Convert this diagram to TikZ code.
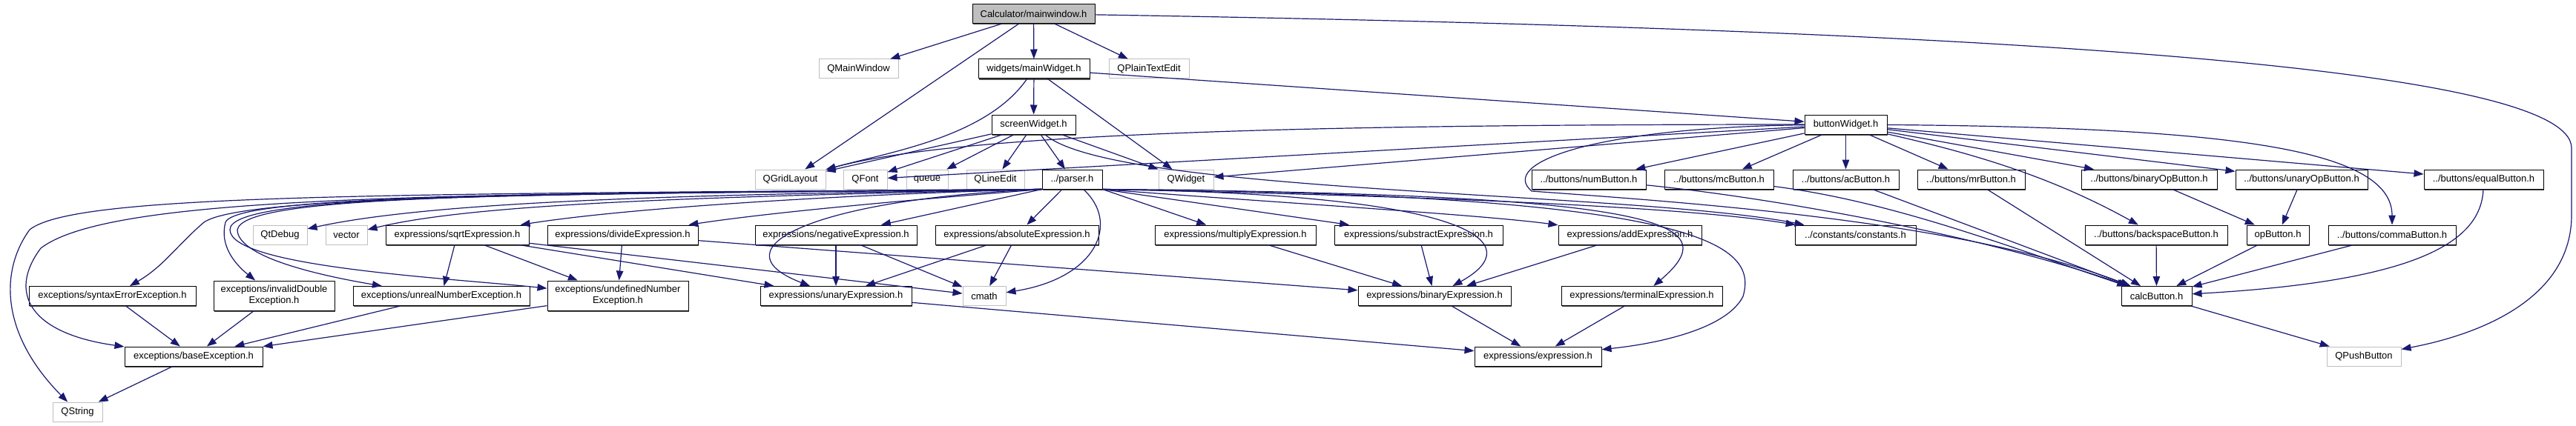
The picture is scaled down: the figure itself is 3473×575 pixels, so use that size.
\documentclass[tikz,border=0pt]{standalone}
\usepackage{fontspec}
\setmainfont{Liberation Sans}
\usetikzlibrary{arrows.meta,shadows}
\definecolor{edgeblue}{HTML}{191970}
\definecolor{sysgray}{HTML}{BFBFBF}

\begin{document}
\begin{tikzpicture}[
    x=1pt, y=-1pt,
    fileBox/.style={draw=black, fill=white, line width=1pt, font=\fontsize{13}{15}\selectfont, align=center, minimum height=26pt, inner sep=2pt, drop shadow={shadow xshift=0.8pt, shadow yshift=-1.8pt, fill=black!70, opacity=1}},
    sysBox/.style={draw=sysgray, fill=white, line width=1pt, font=\fontsize{13}{15}\selectfont, align=center, minimum height=26pt, inner sep=2pt},
    rootBox/.style={fileBox, fill=sysgray},
    incArrow/.style={-{Triangle[length=13pt,width=9.5pt]}, line width=1.2pt, draw=edgeblue}
]
    \useasboundingbox (0,0) rectangle (3473,575);

    % Radice
    \node[rootBox, minimum width=165pt] (mainwin) at (1393.5,18.5) {Calculator/mainwindow.h};

    % Livello 1
    \node[sysBox, minimum width=107pt] (qmainwin) at (1157.5,93) {QMainWindow};
    \node[fileBox, minimum width=150pt] (mainwidget) at (1394,93) {widgets/mainWidget.h};
    \node[sysBox, minimum width=108pt] (qplain) at (1549,93) {QPlainTextEdit};

    % Livello 2
    \node[fileBox, minimum width=113pt] (screenw) at (1393.5,168) {screenWidget.h};
    \node[fileBox, minimum width=111pt] (buttonw) at (2488.5,168) {buttonWidget.h};

    % Livello 3
    \node[sysBox, minimum width=95pt] (qgrid) at (1065.5,242) {QGridLayout};
    \node[sysBox, minimum width=59pt] (qfont) at (1166.5,242) {QFont};
    \node[sysBox, minimum width=56pt] (queue) at (1250,242) {queue};
    \node[sysBox, minimum width=78pt] (qlineedit) at (1342,242) {QLineEdit};
    \node[fileBox, minimum width=81pt] (parser) at (1445.5,242) {../parser.h};
    \node[sysBox, minimum width=74pt] (qwidget) at (1599,242) {QWidget};
    \node[fileBox, minimum width=154pt] (numbtn) at (2142,242) {../buttons/numButton.h};
    \node[fileBox, minimum width=147pt] (mcbtn) at (2317.5,242) {../buttons/mcButton.h};
    \node[fileBox, minimum width=143pt] (acbtn) at (2488.5,242) {../buttons/acButton.h};
    \node[fileBox, minimum width=145pt] (mrbtn) at (2657.5,242) {../buttons/mrButton.h};
    \node[fileBox, minimum width=183pt] (binopbtn) at (2897.5,242) {../buttons/binaryOpButton.h};
    \node[fileBox, minimum width=178pt] (unopbtn) at (3103,242) {../buttons/unaryOpButton.h};
    \node[fileBox, minimum width=161pt] (equalbtn) at (3348.5,242) {../buttons/equalButton.h};

    % Livello 4
    \node[sysBox, minimum width=73pt] (qtdebug) at (377.5,317) {QtDebug};
    \node[sysBox, minimum width=56pt] (vector) at (467,317) {vector};
    \node[fileBox, minimum width=193pt] (sqrtexpr) at (616.5,317) {expressions/sqrtExpression.h};
    \node[fileBox, minimum width=203pt] (divexpr) at (839.5,317) {expressions/divideExpression.h};
    \node[fileBox, minimum width=218pt] (negexpr) at (1127,317) {expressions/negativeExpression.h};
    \node[fileBox, minimum width=220pt] (absexpr) at (1371,317) {expressions/absoluteExpression.h};
    \node[fileBox, minimum width=217pt] (mulexpr) at (1665.5,317) {expressions/multiplyExpression.h};
    \node[fileBox, minimum width=227pt] (subexpr) at (1912.5,317) {expressions/substractExpression.h};
    \node[fileBox, minimum width=193pt] (addexpr) at (2197.5,317) {expressions/addExpression.h};
    \node[fileBox, minimum width=163pt] (constants) at (2501.5,317) {../constants/constants.h};
    \node[fileBox, minimum width=192pt] (bsbtn) at (2907,317) {../buttons/backspaceButton.h};
    \node[fileBox, minimum width=84pt] (opbtn) at (3071,317) {opButton.h};
    \node[fileBox, minimum width=172pt] (commabtn) at (3225,317) {../buttons/commaButton.h};

    % Livello 5
    \node[fileBox, minimum width=225pt] (syntaxexc) at (151.5,399.5) {exceptions/syntaxErrorException.h};
    \node[fileBox, minimum width=163pt, minimum height=40pt] (invdblexc) at (369.5,399) {exceptions/invalidDouble\\Exception.h};
    \node[fileBox, minimum width=238pt] (unrealexc) at (595,399.5) {exceptions/unrealNumberException.h};
    \node[fileBox, minimum width=190pt, minimum height=40pt] (undefexc) at (833,399) {exceptions/undefinedNumber\\Exception.h};
    \node[fileBox, minimum width=204pt] (unaryexpr) at (1127,399.5) {expressions/unaryExpression.h};
    \node[sysBox, minimum width=58pt] (cmath) at (1327,399.5) {cmath};
    \node[fileBox, minimum width=206pt] (binexpr) at (1934,399.5) {expressions/binaryExpression.h};
    \node[fileBox, minimum width=217pt] (termexpr) at (2213.5,399.5) {expressions/terminalExpression.h};
    \node[fileBox, minimum width=95pt] (calcbtn) at (2907.5,399.5) {calcButton.h};

    % Livello 6 e 7
    \node[fileBox, minimum width=186pt] (baseexc) at (261,481) {exceptions/baseException.h};
    \node[fileBox, minimum width=171pt] (expr) at (2073.5,481) {expressions/expression.h};
    \node[sysBox, minimum width=100pt] (qpush) at (3187,481) {QPushButton};
    \node[sysBox, minimum width=67pt] (qstring) at (104.5,556) {QString};

    % Archi da mainwindow.h
    \draw[incArrow] (mainwin) -- (qmainwin);
    \draw[incArrow] (mainwin) -- (qgrid);
    \draw[incArrow] (mainwin) -- (mainwidget);
    \draw[incArrow] (mainwin) -- (qplain);
    \draw[incArrow] (mainwin) .. controls (2700,40) and (3467,90) .. (3467,200) -- (3467,290) .. controls (3467,400) and (3350,450) .. (qpush);

    % Archi da mainWidget.h
    \draw[incArrow] (mainwidget) -- (screenw);
    \draw[incArrow] (mainwidget) .. controls (1330,185) and (1200,205) .. (qgrid);
    \draw[incArrow] (mainwidget) -- (qwidget);
    \draw[incArrow] (mainwidget) -- (buttonw);

    % Archi da screenWidget.h
    \draw[incArrow] (screenw) -- (qgrid);
    \draw[incArrow] (screenw) -- (qfont);
    \draw[incArrow] (screenw) -- (queue);
    \draw[incArrow] (screenw) -- (qlineedit);
    \draw[incArrow] (screenw) -- (parser);
    \draw[incArrow] (screenw) -- (qwidget);
    \draw[incArrow] (screenw) .. controls (1500,262) and (2200,258) .. (constants);

    % Archi da buttonWidget.h
    \draw[incArrow] (buttonw) .. controls (1800,168) and (1300,178) .. (qgrid);
    \draw[incArrow] (buttonw) -- (qfont);
    \draw[incArrow] (buttonw) -- (qwidget);
    \draw[incArrow] (buttonw) -- (numbtn);
    \draw[incArrow] (buttonw) -- (mcbtn);
    \draw[incArrow] (buttonw) -- (acbtn);
    \draw[incArrow] (buttonw) -- (mrbtn);
    \draw[incArrow] (buttonw) -- (binopbtn);
    \draw[incArrow] (buttonw) -- (unopbtn);
    \draw[incArrow] (buttonw) -- (equalbtn);
    \draw[incArrow] (buttonw) .. controls (2650,205) and (2760,235) .. (bsbtn);
    \draw[incArrow] (buttonw) .. controls (3000,172) and (3225,200) .. (commabtn);
    \draw[incArrow] (buttonw) .. controls (2150,172) and (2020,220) .. (2065,258) .. controls (2300,275) and (2650,300) .. (calcbtn);

    % Archi dei pulsanti
    \draw[incArrow] (numbtn) .. controls (2400,268) and (2680,320) .. (calcbtn);
    \draw[incArrow] (mcbtn) .. controls (2550,272) and (2700,330) .. (calcbtn);
    \draw[incArrow] (acbtn) -- (calcbtn);
    \draw[incArrow] (mrbtn) -- (calcbtn);
    \draw[incArrow] (binopbtn) -- (opbtn);
    \draw[incArrow] (unopbtn) -- (opbtn);
    \draw[incArrow] (equalbtn) .. controls (3345,330) and (3250,380) .. (calcbtn);
    \draw[incArrow] (bsbtn) -- (calcbtn);
    \draw[incArrow] (opbtn) -- (calcbtn);
    \draw[incArrow] (commabtn) -- (calcbtn);
    \draw[incArrow] (calcbtn) -- (qpush);

    % Archi da parser.h
    \draw[incArrow] (parser.south west) .. controls (1000,262) and (600,268) .. (qtdebug);
    \draw[incArrow] (parser.south west) .. controls (1000,265) and (650,272) .. (vector);
    \draw[incArrow] (parser.south west) .. controls (1150,262) and (850,280) .. (sqrtexpr);
    \draw[incArrow] (parser.south west) .. controls (1250,268) and (1050,285) .. (divexpr);
    \draw[incArrow] (parser.south west) -- (negexpr);
    \draw[incArrow] (parser) -- (absexpr);
    \draw[incArrow] (parser.south west) .. controls (800,262) and (330,262) .. (275,300) .. controls (240,330) and (220,360) .. (syntaxexc);
    \draw[incArrow] (parser.south west) .. controls (750,262) and (320,262) .. (304,300) .. controls (296,330) and (315,355) .. (invdblexc);
    \draw[incArrow] (parser.south west) .. controls (700,262) and (330,262) .. (320,310) .. controls (320,345) and (420,370) .. (unrealexc);
    \draw[incArrow] (parser.south west) .. controls (700,262) and (310,262) .. (310,310) .. controls (310,360) and (600,375) .. (undefexc);
    \draw[incArrow] (parser.south west) .. controls (600,262) and (150,262) .. (55,335) .. controls (10,395) and (40,450) .. (baseexc);
    \draw[incArrow] (parser.south west) .. controls (500,262) and (100,262) .. (40,310) .. controls (0,365) and (0,450) .. (qstring);
    \draw[incArrow] (parser.south west) .. controls (1100,268) and (960,335) .. (unaryexpr);
    \draw[incArrow] (parser) .. controls (1510,300) and (1480,375) .. (cmath);
    \draw[incArrow] (parser.south east) -- (mulexpr);
    \draw[incArrow] (parser.south east) -- (subexpr);
    \draw[incArrow] (parser.south east) .. controls (1700,272) and (2000,290) .. (addexpr);
    \draw[incArrow] (parser.south east) .. controls (2000,262) and (2060,330) .. (binexpr);
    \draw[incArrow] (parser.south east) .. controls (2250,262) and (2330,300) .. (termexpr);
    \draw[incArrow] (parser.south east) .. controls (2300,262) and (2370,330) .. (2350,400) .. controls (2330,440) and (2250,462) .. (expr);
    \draw[incArrow] (parser.south east) .. controls (1800,262) and (2250,275) .. (constants);

    % Espressioni ed eccezioni
    \draw[incArrow] (sqrtexpr) -- (unrealexc);
    \draw[incArrow] (sqrtexpr) -- (undefexc);
    \draw[incArrow] (sqrtexpr) -- (unaryexpr);
    \draw[incArrow] (sqrtexpr) -- (cmath);
    \draw[incArrow] (divexpr) -- (undefexc);
    \draw[incArrow] (divexpr) -- (binexpr);
    \draw[incArrow] (negexpr) -- (unaryexpr);
    \draw[incArrow] (negexpr) -- (cmath);
    \draw[incArrow] (absexpr) -- (unaryexpr);
    \draw[incArrow] (absexpr) -- (cmath);
    \draw[incArrow] (mulexpr) -- (binexpr);
    \draw[incArrow] (subexpr) -- (binexpr);
    \draw[incArrow] (addexpr) -- (binexpr);
    \draw[incArrow] (unaryexpr) -- (expr);
    \draw[incArrow] (binexpr) -- (expr);
    \draw[incArrow] (termexpr) -- (expr);
    \draw[incArrow] (syntaxexc) -- (baseexc);
    \draw[incArrow] (invdblexc) -- (baseexc);
    \draw[incArrow] (unrealexc) -- (baseexc);
    \draw[incArrow] (undefexc) -- (baseexc);
    \draw[incArrow] (baseexc) -- (qstring);
\end{tikzpicture}
\end{document}
